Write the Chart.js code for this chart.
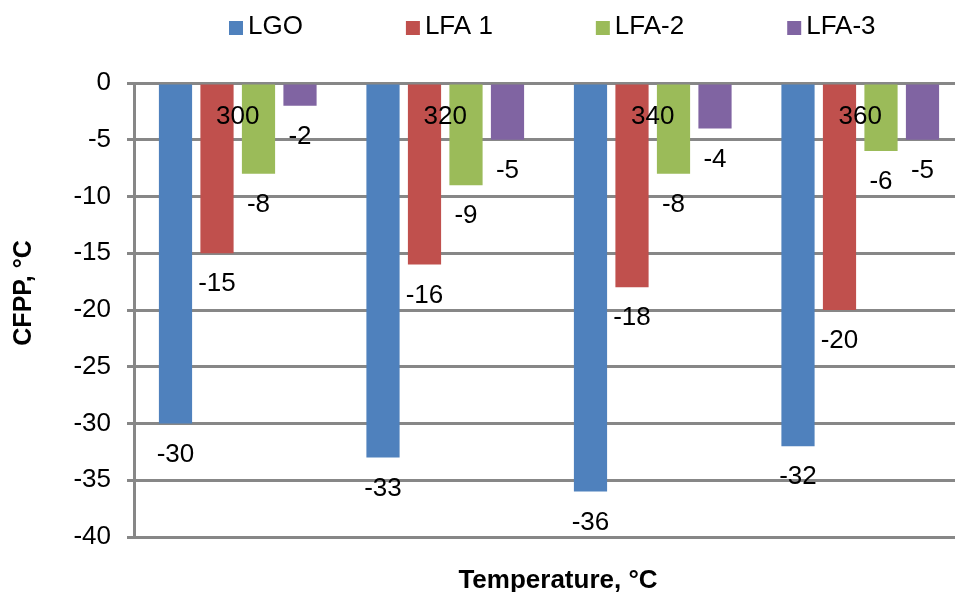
<!DOCTYPE html>
<html>
<head>
<meta charset="utf-8">
<title>CFPP by temperature</title>
<script src="https://cdn.jsdelivr.net/npm/chart.js@4.4.1/dist/chart.umd.min.js"></script>
<style>
  html, body { margin: 0; padding: 0; width: 955px; height: 592px; overflow: hidden; background: #fff; }
  #wrap { position: absolute; left: 0; top: 0; width: 970px; height: 592px; }
</style>
</head>
<body>
<div id="wrap"><canvas id="chart"></canvas></div>
<script>
// Cold filter plugging point of each fuel at the four temperatures
const categories = ['300', '320', '340', '360'];
const seriesNames = ['LGO', 'LFA 1', 'LFA-2', 'LFA-3'];
const lgo  = [-30, -33, -36, -32];
const lfa1 = [-15, -16, -18, -20];
const lfa2 = [-8, -9, -8, -6];
const lfa3 = [-2, -5, -4, -5];
const yMin = -40;
const yMax = 0;
const yStep = 5;
const xTitle = 'Temperature, °C';
const yTitle = 'CFPP, °C';

const seriesColors = ['#4F81BD', '#C0504D', '#9BBB59', '#8064A2'];
const FONT = '"Liberation Sans", Arial, Helvetica, sans-serif';
const GRID = '#878787';
const TEXT_SIZE = 26;

Chart.defaults.font.family = FONT;
Chart.defaults.color = '#000';

// Value printed under the end of each bar
const valueLabels = {
  id: 'valueLabels',
  afterDatasetsDraw(chart) {
    const ctx = chart.ctx;
    ctx.save();
    ctx.font = TEXT_SIZE + 'px ' + FONT;
    ctx.fillStyle = '#000';
    ctx.textAlign = 'center';
    ctx.textBaseline = 'middle';
    chart.data.datasets.forEach((ds, i) => {
      chart.getDatasetMeta(i).data.forEach((bar, j) => {
        ctx.fillText(String(ds.data[j]), bar.x, bar.y + 31);
      });
    });
    ctx.restore();
  }
};

// Legend row across the top, square swatch then name
const topLegend = {
  id: 'topLegend',
  afterDraw(chart) {
    const ctx = chart.ctx;
    ctx.save();
    ctx.font = TEXT_SIZE + 'px ' + FONT;
    ctx.textBaseline = 'middle';
    ctx.textAlign = 'left';
    let x = 229;
    const box = 14, boxTop = 21, gap = 5, spacing = 103, textY = 27;
    chart.data.datasets.forEach(ds => {
      ctx.fillStyle = ds.backgroundColor;
      ctx.fillRect(x, boxTop, box, box);
      ctx.fillStyle = '#000';
      ctx.fillText(ds.label, x + box + gap, textY);
      x += box + gap + ctx.measureText(ds.label).width + spacing;
    });
    ctx.restore();
  }
};

// Bold axis titles
const axisTitles = {
  id: 'axisTitles',
  afterDraw(chart) {
    const ctx = chart.ctx;
    ctx.save();
    ctx.fillStyle = '#000';
    ctx.textAlign = 'center';
    ctx.textBaseline = 'middle';
    ctx.font = 'bold 26px ' + FONT;
    ctx.fillText(xTitle, 558, 581);
    ctx.font = 'bold 25px ' + FONT;
    ctx.translate(24, 293);
    ctx.rotate(-Math.PI / 2);
    ctx.fillText(yTitle, 0, 0);
    ctx.restore();
  }
};

const seriesValues = [lgo, lfa1, lfa2, lfa3];

new Chart(document.getElementById('chart'), {
  type: 'bar',
  data: {
    labels: categories,
    datasets: seriesNames.map((name, i) => ({
      label: name,
      data: seriesValues[i],
      backgroundColor: seriesColors[i],
      borderWidth: 0,
      categoryPercentage: 0.8,
      barPercentage: 0.8
    }))
  },
  options: {
    responsive: true,
    maintainAspectRatio: false,
    animation: false,
    layout: { padding: { top: 83, bottom: 55, left: 0, right: 6 } },
    plugins: {
      legend: { display: false },
      tooltip: { enabled: false },
      title: { display: false }
    },
    scales: {
      x: {
        type: 'category',
        position: { y: 0 },
        offset: true,
        grid: { display: false, drawTicks: false },
        border: { display: true, color: GRID, width: 3 },
        ticks: { z: 1, padding: 18, font: { size: TEXT_SIZE }, color: '#000', maxRotation: 0, autoSkip: false }
      },
      y: {
        min: yMin,
        max: yMax,
        afterFit(scale) { scale.width = 134; },
        grid: { color: GRID, lineWidth: 3, tickLength: 7, drawTicks: true },
        border: { display: true, color: GRID, width: 3 },
        ticks: { stepSize: yStep, padding: 16, font: { size: TEXT_SIZE }, color: '#000' }
      }
    }
  },
  plugins: [valueLabels, topLegend, axisTitles]
});
</script>
</body>
</html>
